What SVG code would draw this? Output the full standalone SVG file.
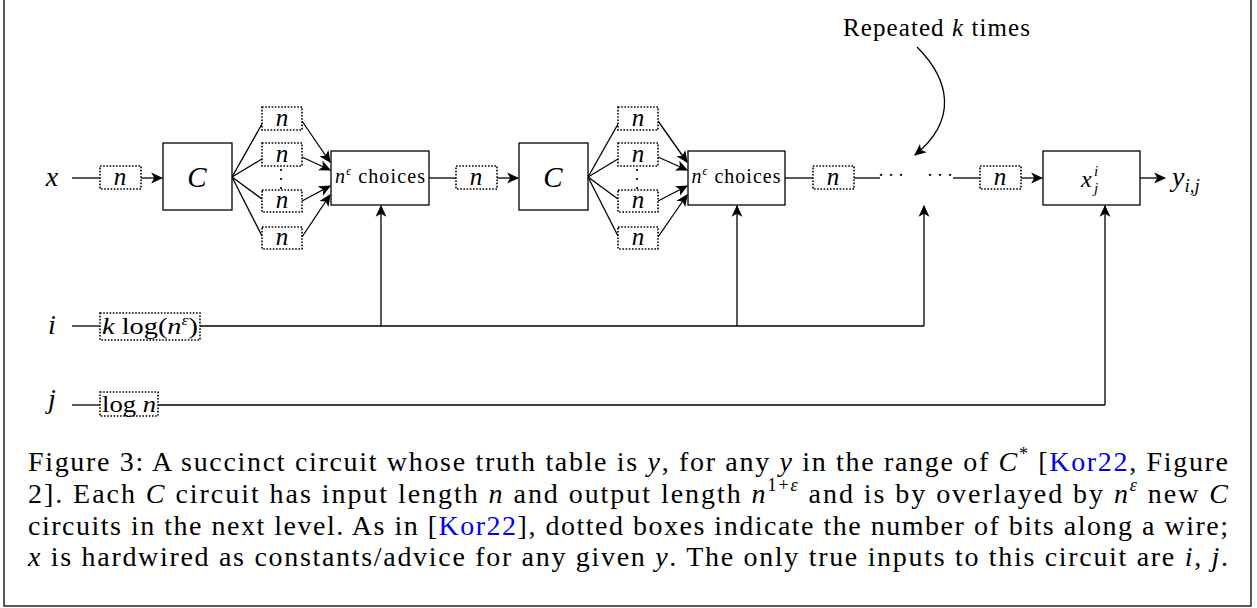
<svg xmlns="http://www.w3.org/2000/svg" width="1257" height="608" viewBox="0 0 1257 608">
<style>
text{font-family:"Liberation Serif","DejaVu Serif",serif;fill:#000}
.m{font-style:italic}
.box{fill:#fff;stroke:#000;stroke-width:1.3}
.dot{fill:#fff;stroke:#000;stroke-width:1.6;stroke-dasharray:1.6 1.6}
.w{fill:none;stroke:#000;stroke-width:1.3}
.a{fill:none;stroke:#000;stroke-width:1.3;marker-end:url(#ah)}
.cap{font-size:28px}
.lnk{fill:#0000ee}
.vd{fill:#000}
</style>
<defs>
<marker id="ah" viewBox="0 0 10 10" refX="9" refY="5" markerWidth="12" markerHeight="12" markerUnits="userSpaceOnUse" orient="auto">
<path d="M0,0.5 L10,5 L0,9.5 L2.5,5 z" fill="#000"/>
</marker>
</defs>
<rect x="4" y="-4" width="1247" height="610" fill="none" stroke="#000" stroke-width="1.3"/>

<g id="connectors">
<line class="w" x1="72" y1="178" x2="100" y2="178"/>
<line class="a" x1="141" y1="178" x2="162" y2="178"/>
<line class="w" x1="232" y1="177" x2="262" y2="124"/>
<line class="w" x1="232" y1="177" x2="262" y2="159"/>
<line class="w" x1="232" y1="177" x2="262" y2="199"/>
<line class="w" x1="232" y1="177" x2="262" y2="236"/>
<line class="a" x1="302" y1="121" x2="330" y2="162"/>
<line class="a" x1="302" y1="157" x2="330" y2="170"/>
<line class="a" x1="302" y1="201" x2="330" y2="186"/>
<line class="a" x1="302" y1="237" x2="330" y2="195"/>
<line class="w" x1="429" y1="178" x2="456" y2="178"/>
<line class="a" x1="497" y1="178" x2="518" y2="178"/>
<line class="w" x1="588" y1="177" x2="618" y2="124"/>
<line class="w" x1="588" y1="177" x2="618" y2="159"/>
<line class="w" x1="588" y1="177" x2="618" y2="199"/>
<line class="w" x1="588" y1="177" x2="618" y2="236"/>
<line class="a" x1="658" y1="121" x2="687" y2="162"/>
<line class="a" x1="658" y1="157" x2="687" y2="170"/>
<line class="a" x1="658" y1="201" x2="687" y2="186"/>
<line class="a" x1="658" y1="237" x2="687" y2="195"/>
<line class="w" x1="785" y1="178" x2="813" y2="178"/>
<line class="w" x1="854" y1="178" x2="880" y2="178"/>
<line class="w" x1="953" y1="178" x2="980" y2="178"/>
<line class="a" x1="1021" y1="178" x2="1042" y2="178"/>
<line class="a" x1="1140" y1="178" x2="1165" y2="178"/>
<path class="a" d="M917,47 C950,80 958,120 915,155"/>
<line class="w" x1="72" y1="326" x2="100" y2="326"/>
<line class="w" x1="200" y1="326" x2="924" y2="326"/>
<line class="a" x1="381" y1="326" x2="381" y2="206"/>
<line class="a" x1="737" y1="326" x2="737" y2="206"/>
<line class="a" x1="924" y1="326" x2="924" y2="206"/>
<line class="w" x1="72" y1="405" x2="100" y2="405"/>
<line class="w" x1="158" y1="405" x2="1105" y2="405"/>
<line class="a" x1="1105" y1="405" x2="1105" y2="206"/>
</g>

<g id="labels">
<text class="m" x="52" y="186" font-size="28" text-anchor="middle">x</text>
<text class="m" x="52" y="334" font-size="28" text-anchor="middle">i</text>
<text class="m" x="52" y="408" font-size="28" text-anchor="middle">j</text>
<text x="843" y="36" font-size="25" textLength="187" lengthAdjust="spacing">Repeated <tspan class="m">k</tspan> times</text>
<text x="893" y="181" font-size="18" text-anchor="middle" letter-spacing="4">···</text>
<text x="942" y="181" font-size="18" text-anchor="middle" letter-spacing="4">···</text>
<circle class="vd" cx="281" cy="170" r="1.1"/><circle class="vd" cx="281" cy="179" r="1.1"/><circle class="vd" cx="281" cy="188" r="1.1"/>
<circle class="vd" cx="637" cy="170" r="1.1"/><circle class="vd" cx="637" cy="179" r="1.1"/><circle class="vd" cx="637" cy="188" r="1.1"/>
<text class="m" x="1172" y="186" font-size="28">y<tspan font-size="19" dy="6">i,j</tspan></text>
</g>

<g id="wx"><rect class="dot" x="100" y="166" width="41" height="23"/><text class="m" x="120" y="185" font-size="25" text-anchor="middle">n</text></g>
<g id="c1"><rect class="box" x="163" y="143" width="69" height="67"/><text class="m" x="197" y="187" font-size="29" text-anchor="middle">C</text></g>
<g id="f1a"><rect class="dot" x="262" y="107" width="40" height="23"/><text class="m" x="282" y="126" font-size="25" text-anchor="middle">n</text></g>
<g id="f1b"><rect class="dot" x="262" y="143" width="40" height="23"/><text class="m" x="282" y="162" font-size="25" text-anchor="middle">n</text></g>
<g id="f1c"><rect class="dot" x="262" y="190" width="40" height="22"/><text class="m" x="282" y="208" font-size="25" text-anchor="middle">n</text></g>
<g id="f1d"><rect class="dot" x="262" y="227" width="40" height="22"/><text class="m" x="282" y="245" font-size="25" text-anchor="middle">n</text></g>
<g id="ch1"><rect class="box" x="331" y="151" width="98" height="54"/><text x="380" y="183" font-size="20" text-anchor="middle" textLength="90" lengthAdjust="spacing"><tspan class="m">n</tspan><tspan font-size="12" dy="-8" class="m">ϵ</tspan><tspan dy="8"> choices</tspan></text></g>
<g id="w2"><rect class="dot" x="456" y="166" width="41" height="23"/><text class="m" x="476" y="185" font-size="25" text-anchor="middle">n</text></g>
<g id="c2"><rect class="box" x="519" y="143" width="69" height="67"/><text class="m" x="553" y="187" font-size="29" text-anchor="middle">C</text></g>
<g id="f2a"><rect class="dot" x="618" y="107" width="40" height="23"/><text class="m" x="638" y="126" font-size="25" text-anchor="middle">n</text></g>
<g id="f2b"><rect class="dot" x="618" y="143" width="40" height="23"/><text class="m" x="638" y="162" font-size="25" text-anchor="middle">n</text></g>
<g id="f2c"><rect class="dot" x="618" y="190" width="40" height="22"/><text class="m" x="638" y="208" font-size="25" text-anchor="middle">n</text></g>
<g id="f2d"><rect class="dot" x="618" y="227" width="40" height="22"/><text class="m" x="638" y="245" font-size="25" text-anchor="middle">n</text></g>
<g id="ch2"><rect class="box" x="688" y="151" width="97" height="54"/><text x="736" y="183" font-size="20" text-anchor="middle" textLength="89" lengthAdjust="spacing"><tspan class="m">n</tspan><tspan font-size="12" dy="-8" class="m">ϵ</tspan><tspan dy="8"> choices</tspan></text></g>
<g id="w3"><rect class="dot" x="813" y="166" width="41" height="23"/><text class="m" x="833" y="185" font-size="25" text-anchor="middle">n</text></g>
<g id="w4"><rect class="dot" x="980" y="166" width="41" height="23"/><text class="m" x="1000" y="185" font-size="25" text-anchor="middle">n</text></g>
<g id="xij"><rect class="box" x="1043" y="151" width="97" height="54"/><text class="m" x="1081" y="187" font-size="24">x</text><text class="m" x="1094" y="176" font-size="15">i</text><text class="m" x="1094" y="193" font-size="15">j</text></g>
<g id="wi"><rect class="dot" x="100" y="313" width="100" height="27"/><text x="150" y="334" font-size="24" text-anchor="middle" textLength="96" lengthAdjust="spacingAndGlyphs"><tspan class="m">k</tspan> log(<tspan class="m">n</tspan><tspan class="m" font-size="15" dy="-9">ε</tspan><tspan dy="9">)</tspan></text></g>
<g id="wj"><rect class="dot" x="100" y="392" width="58" height="24"/><text x="129" y="412" font-size="24" text-anchor="middle" textLength="54" lengthAdjust="spacingAndGlyphs">log <tspan class="m">n</tspan></text></g>

<g id="caption" class="cap">
<text x="28" y="471" textLength="1200" lengthAdjust="spacing">Figure 3: A succinct circuit whose truth table is <tspan class="m">y</tspan>, for any <tspan class="m">y</tspan> in the range of <tspan class="m">C</tspan><tspan font-size="18" dy="-11">*</tspan><tspan dy="11"> [</tspan><tspan class="lnk">Kor22</tspan>, Figure</text>
<text x="28" y="503" textLength="1200" lengthAdjust="spacing">2]. Each <tspan class="m">C</tspan> circuit has input length <tspan class="m">n</tspan> and output length <tspan class="m">n</tspan><tspan font-size="18" dy="-12">1+<tspan class="m">ε</tspan></tspan><tspan dy="12"> and is by overlayed by </tspan><tspan class="m">n</tspan><tspan class="m" font-size="18" dy="-12">ε</tspan><tspan dy="12"> new </tspan><tspan class="m">C</tspan></text>
<text x="28" y="535" textLength="1200" lengthAdjust="spacing">circuits in the next level. As in [<tspan class="lnk">Kor22</tspan>], dotted boxes indicate the number of bits along a wire;</text>
<text x="28" y="566" textLength="1200" lengthAdjust="spacing"><tspan class="m">x</tspan> is hardwired as constants/advice for any given <tspan class="m">y</tspan>. The only true inputs to this circuit are <tspan class="m">i</tspan>, <tspan class="m">j</tspan>.</text>
</g>
</svg>
